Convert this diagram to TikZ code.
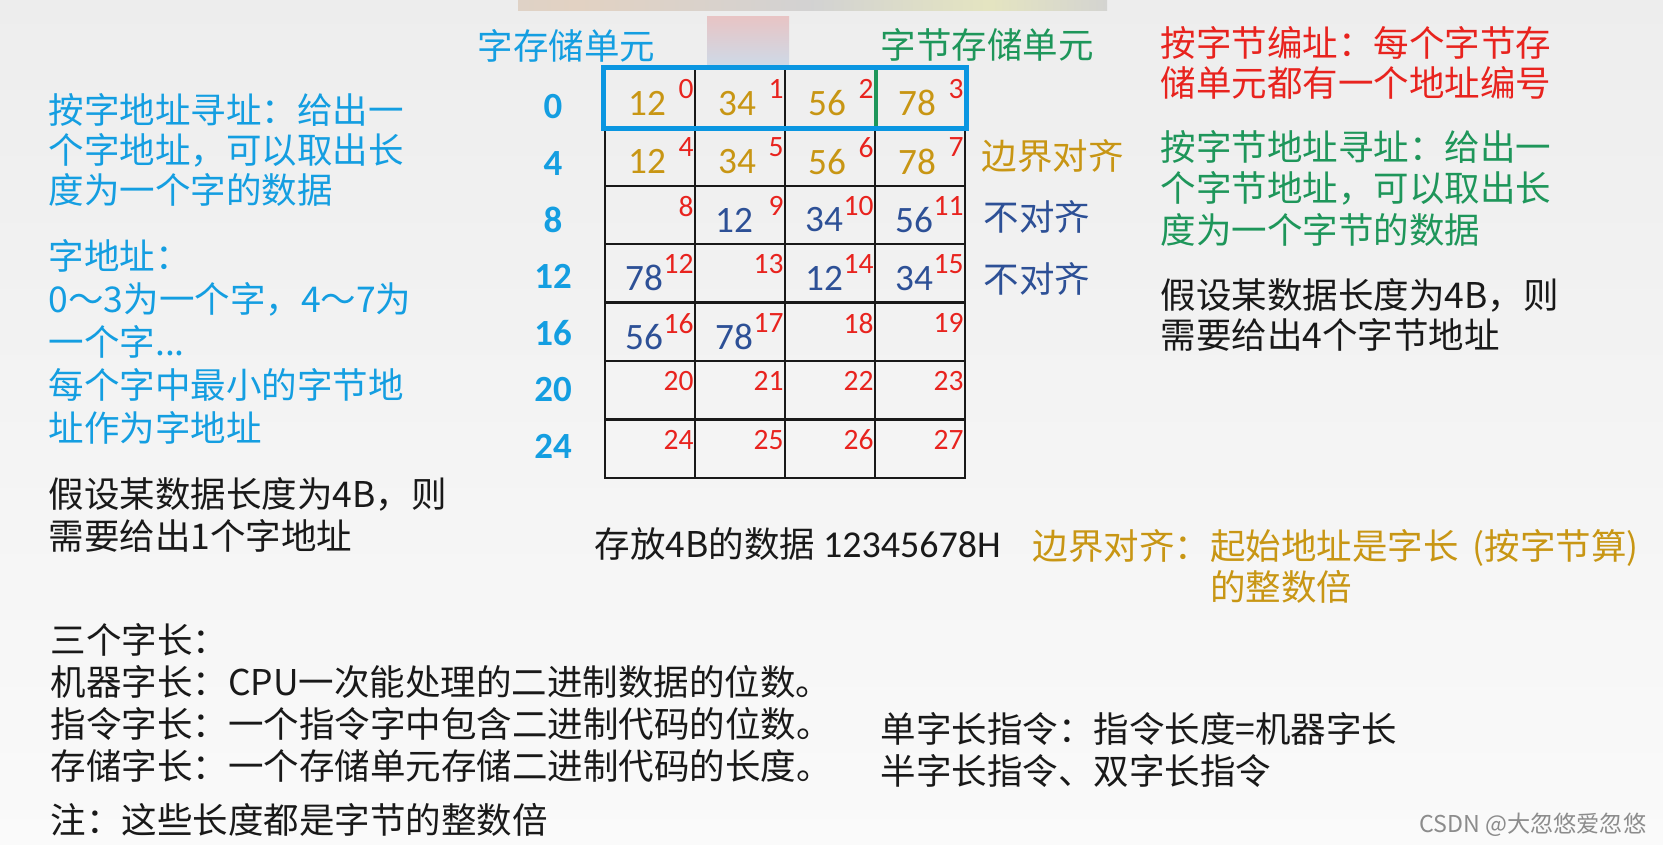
\documentclass[tikz,border=0pt]{standalone}
\usepackage{fontspec}
\usepackage{xcolor}
\usepackage{tikz}
\usetikzlibrary{positioning,calc}

\setmainfont{Noto Sans CJK SC}
\newfontfamily\numfont{Carlito}
\newcommand\txtsize[1]{\fontsize{10.1}{#1}\selectfont}

\definecolor{skyblue}{RGB}{20,158,225}
\definecolor{boxblue}{RGB}{10,150,225}
\definecolor{byteGreen}{RGB}{30,150,90}
\definecolor{addrred}{RGB}{232,35,30}
\definecolor{alignGold}{RGB}{200,150,20}
\definecolor{navy}{RGB}{45,80,150}
\definecolor{ink}{RGB}{25,25,25}
\definecolor{smudgeTop}{RGB}{232,196,196}
\definecolor{smudgeBot}{RGB}{205,218,232}

\pgfdeclarehorizontalshading{smear}{100bp}{color(0bp)=(blue!10!gray!35); color(30bp)=(orange!35!gray!35); color(50bp)=(gray!35); color(65bp)=(yellow!40!gray!35); color(80bp)=(blue!15!gray!35); color(100bp)=(green!18!gray!35)}

\begin{document}
\begin{tikzpicture}[x=0.1mm, y=-0.1mm,
  cell/.style={draw=ink, line width=0.7pt, minimum width=9mm, minimum height=5.84mm, inner sep=0pt},
  val/.style={font=\numfont\fontsize{10.6}{12}\selectfont, inner sep=0pt},
  idx/.style={anchor=north east, font=\numfont\fontsize{8.4}{10}\selectfont, text=addrred, inner sep=0pt},
  rowlab/.style={font=\numfont\bfseries\fontsize{10.5}{12}\selectfont, text=skyblue, inner sep=0pt},
  txt/.style={anchor=west, inner sep=0pt, align=left},
  wordbox/.style={draw=boxblue, line width=1.4pt},
  bytesep/.style={draw=byteGreen, line width=1.1pt}]

% Slide background
\shade[top color=black!7, bottom color=black!2] (0,0) rectangle (1663,845);
\useasboundingbox (0,0) rectangle (1663,845);

% Blurred bits of the screenshot
\shade[shading=smear] (518,0) rectangle (1107,10);
\shade[top color=smudgeTop, bottom color=smudgeBot] (707,16) rectangle (789,67);

% Headings over the memory
\node[txt, font=\txtsize{12pt}, text=skyblue] (wordHead) at (477,46) {字存储单元};
\node[txt, font=\txtsize{12pt}, text=byteGreen] (byteHead) at (880,45) {字节存储单元};

% Byte cells, 4 per word
\foreach \r in {0,...,6} {
  \foreach \c in {0,...,3} {
    \pgfmathtruncatemacro{\a}{4*\r+\c}
    \pgfmathsetmacro{\x}{650+90*\c}
    \pgfmathsetmacro{\y}{98.2+58.4*\r}
    \node[cell] (b\a) at (\x,\y) {};
    \node[idx] (i\a) at ([xshift=-0.2mm,yshift=-1.1mm]b\a.north east) {\a};
  }
  \pgfmathtruncatemacro{\w}{4*\r}
  \pgfmathsetmacro{\ly}{107+56.6*\r}
  \node[rowlab] (w\r) at (553,\ly) {\w};
}

% Data 12345678H
\foreach \a/\v in {0/12,1/34,2/56,3/78,4/12,5/34,6/56,7/78}
  \node[val, text=alignGold] (v\a) at ([xshift=-0.3mm,yshift=-0.5mm]b\a.center) {\v};
\foreach \a/\v in {9/12,10/34,11/56,12/78,14/12,15/34,16/56,17/78}
  \node[val, text=navy] (v\a) at ([xshift=-0.6mm,yshift=-0.5mm]b\a.center) {\v};

% Word 0 and byte 3
\draw[bytesep] (b2.north east) -- (b2.south east);
\draw[wordbox] (b0.north west) rectangle (b3.south east);

% Tags beside the rows
\node[txt, font=\txtsize{12pt}, text=alignGold] (alignTag) at (981,156) {边界对齐};
\node[txt, font=\txtsize{12pt}, text=navy] (misTagA) at (983,217) {不对齐};
\node[txt, font=\txtsize{12pt}, text=navy] (misTagB) at (983,279) {不对齐};

% Left notes
\node[txt, font=\txtsize{11.5pt}, text=skyblue] (wordAddr) at (48,150)
  {按字地址寻址：给出一\\个字地址，可以取出长\\度为一个字的数据};
\node[txt, font=\txtsize{12.2pt}, text=skyblue] (wordDef) at (48,342)
  {字地址：\\0～3为一个字，4～7为\\一个字...\\每个字中最小的字节地\\址作为字地址};
\node[txt, font=\txtsize{11.7pt}, text=ink] (wordNeed) at (48,515)
  {假设某数据长度为4B，则\\需要给出1个字地址};

% Right notes
\node[txt, font=\txtsize{11.2pt}, text=addrred] (byteNum) at (1160,63)
  {按字节编址：每个字节存\\储单元都有一个地址编号};
\node[txt, font=\txtsize{11.8pt}, text=byteGreen] (byteAddr) at (1160,188)
  {按字节地址寻址：给出一\\个字节地址，可以取出长\\度为一个字节的数据};
\node[txt, font=\txtsize{11.5pt}, text=ink] (byteNeed) at (1160,315)
  {假设某数据长度为4B，则\\需要给出4个字节地址};

% Under the memory
\node[txt, font=\txtsize{12pt}, text=ink] (store) at (594,544) {存放4B的数据 {\numfont\fontsize{10.8}{12}\selectfont 12345678H}};
\node[txt, font=\txtsize{11.7pt}, text=alignGold] (alignNote) at (1032,566)
  {边界对齐：起始地址是字长 \,(按字节算)\\\hspace*{5em}的整数倍};

% Word lengths
\node[txt, font=\txtsize{12pt}, text=ink] (lengths) at (50,703)
  {三个字长：\\机器字长：CPU一次能处理的二进制数据的位数。\\指令字长：一个指令字中包含二进制代码的位数。\\存储字长：一个存储单元存储二进制代码的长度。};
\node[txt, font=\txtsize{12pt}, text=ink] (note) at (50,820) {注：这些长度都是字节的整数倍};
\node[txt, font=\txtsize{12.2pt}, text=ink] (instr) at (880,750)
  {单字长指令：指令长度=机器字长\\半字长指令、双字长指令};

\node[anchor=east, inner sep=0pt, font=\fontsize{6.6}{8}\selectfont, text=black!45] (wm) at (1647,825) {CSDN @大忽悠爱忽悠};

\end{tikzpicture}
\end{document}
